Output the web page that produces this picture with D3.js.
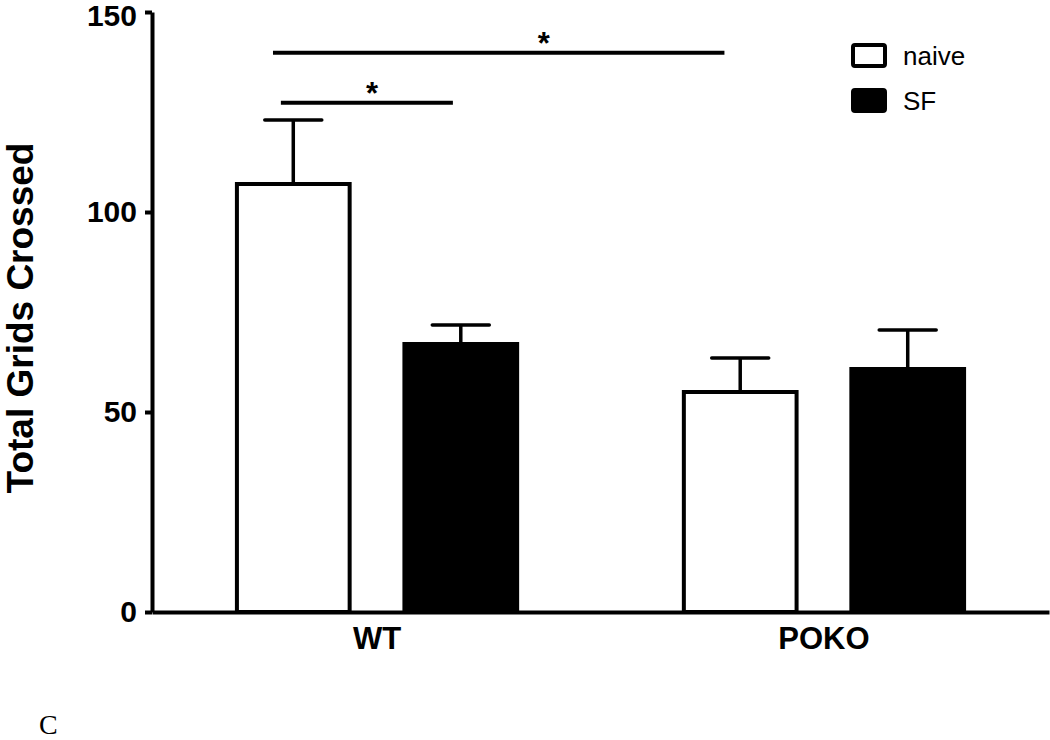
<!DOCTYPE html>
<html>
<head>
<meta charset="utf-8">
<script src="https://cdn.jsdelivr.net/npm/d3@7"></script>
<style>
  body { margin: 0; background: #fff; }
  svg { display: block; font-family: Arial, "Liberation Sans", sans-serif; }
</style>
</head>
<body>
<script>
// data
var groups = ["WT", "POKO"];
var treatments = ["naive", "SF"];
var means = [[107, 67], [55, 60.75]];      // [group][treatment]
var sems  = [[16, 4.75], [8.5, 9.75]];
var yTicks = [0, 50, 100, 150];
// significance brackets: start/end bar + fraction along the bar, height in data units
var brackets = [
  {g1: "WT", t1: "naive", f1: 0.32, g2: "POKO", t2: "naive", f2: 0.36, y: 139.8, star: 0.6},
  {g1: "WT", t1: "naive", f1: 0.39, g2: "WT", t2: "SF", f2: 0.43, y: 127.3, star: 0.53}
];

var width = 1050, height = 740;
var margin = {top: 12, left: 152, bottom: 128, right: 1};

var svg = d3.select("body").append("svg")
    .attr("width", width)
    .attr("height", height);

var x0 = d3.scaleBand()
    .domain(groups)
    .range([margin.left, width - margin.right])
    .paddingInner(0.373)
    .paddingOuter(0.19);

var x1 = d3.scaleBand()
    .domain(treatments)
    .range([0, x0.bandwidth()])
    .paddingInner(0.327);

var y = d3.scaleLinear()
    .domain([0, 150])
    .range([height - margin.bottom, margin.top]);

var fill = {naive: "#fff", SF: "#000"};

var rows = [];
groups.forEach(function(g, i) {
  treatments.forEach(function(t, j) {
    rows.push({g: g, t: t, v: means[i][j], e: sems[i][j]});
  });
});

// error bars (drawn first, bar covers lower part)
var err = svg.append("g").attr("stroke", "#000").attr("stroke-width", 3.5);
rows.forEach(function(d) {
  var cx = x0(d.g) + x1(d.t) + x1.bandwidth() / 2;
  err.append("line")
      .attr("x1", cx).attr("x2", cx)
      .attr("y1", y(d.v)).attr("y2", y(d.v + d.e));
  err.append("line")
      .attr("x1", cx - 28.5).attr("x2", cx + 28.5)
      .attr("y1", y(d.v + d.e)).attr("y2", y(d.v + d.e))
      .attr("stroke-linecap", "round");
});

// bars
svg.selectAll(".bar")
    .data(rows)
  .enter().append("rect")
    .attr("class", "bar")
    .attr("x", function(d) { return x0(d.g) + x1(d.t); })
    .attr("width", x1.bandwidth())
    .attr("y", function(d) { return y(d.v); })
    .attr("height", function(d) { return y(0) - y(d.v); })
    .attr("fill", function(d) { return fill[d.t]; })
    .attr("stroke", "#000")
    .attr("stroke-width", 4);

// y axis
var yAxis = svg.append("g")
    .attr("transform", "translate(" + margin.left + ",0)")
    .call(d3.axisLeft(y).tickValues(yTicks).tickSize(7).tickPadding(8).tickSizeOuter(0));
yAxis.select(".domain").attr("stroke-width", 4);
yAxis.selectAll(".tick line").attr("stroke-width", 4);
yAxis.selectAll("text")
    .attr("font-size", 30)
    .attr("font-weight", "bold")
    .attr("font-family", "Arial, 'Liberation Sans', sans-serif")
    .attr("fill", "#000");
yAxis.selectAll(".tick")
    .filter(function(d) { return d === 150; })
    .select("text").attr("dy", "0.45em");

// x axis
var xAxis = svg.append("g")
    .attr("transform", "translate(0," + y(0) + ")")
    .call(d3.axisBottom(x0).tickSize(0).tickPadding(15).tickSizeOuter(0));
xAxis.select(".domain").attr("stroke-width", 4);
xAxis.selectAll("text")
    .attr("font-size", 31)
    .attr("font-weight", "bold")
    .attr("font-family", "Arial, 'Liberation Sans', sans-serif")
    .attr("fill", "#000");

// y title
svg.append("text")
    .attr("transform", "translate(33," + y(73.5) + ") rotate(-90)")
    .attr("text-anchor", "middle")
    .attr("font-size", 37)
    .attr("font-weight", "bold")
    .text("Total Grids Crossed");

// significance brackets
brackets.forEach(function(b) {
  var xa = x0(b.g1) + x1(b.t1) + b.f1 * x1.bandwidth();
  var xb = x0(b.g2) + x1(b.t2) + b.f2 * x1.bandwidth();
  svg.append("line")
      .attr("x1", xa).attr("x2", xb)
      .attr("y1", y(b.y)).attr("y2", y(b.y))
      .attr("stroke", "#000").attr("stroke-width", 4);
  svg.append("text")
      .attr("x", xa + b.star * (xb - xa))
      .attr("y", y(b.y) + 1)
      .attr("text-anchor", "middle")
      .attr("font-size", 31)
      .attr("font-weight", "bold")
      .text("*");
});

// legend
var legend = svg.append("g").attr("transform", "translate(853,45)");
treatments.forEach(function(t, i) {
  var row = legend.append("g").attr("transform", "translate(0," + i * 45 + ")");
  row.append("rect")
      .attr("width", 32).attr("height", 21).attr("rx", 2)
      .attr("fill", fill[t]).attr("stroke", "#000").attr("stroke-width", 4);
  row.append("text")
      .attr("x", 50).attr("y", 10.5).attr("dy", "0.35em")
      .attr("font-size", 26)
      .text(t);
});

// panel letter
svg.append("text")
    .attr("x", 39).attr("y", 734)
    .attr("font-family", "'Liberation Serif', 'Times New Roman', serif")
    .attr("font-size", 28)
    .text("C");
</script>
</body>
</html>
